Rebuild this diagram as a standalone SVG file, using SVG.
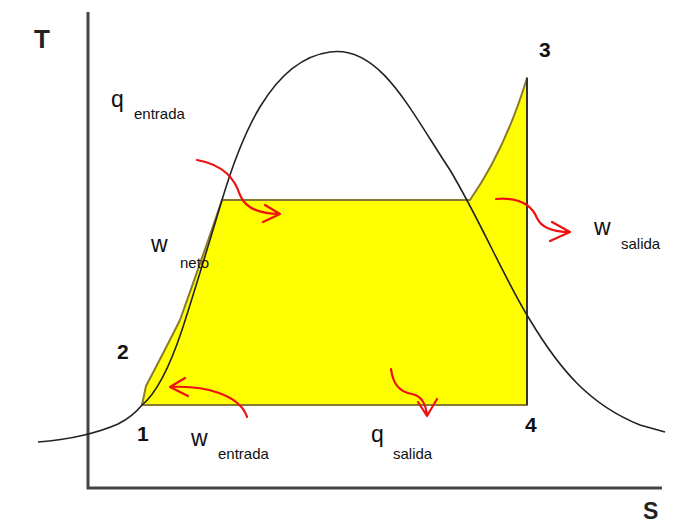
<svg xmlns="http://www.w3.org/2000/svg" width="682" height="523" viewBox="0 0 682 523">
<defs>
<style>
.ax{stroke:#444;stroke-width:3;fill:none}
.cur{stroke:#222;stroke-width:1.6;fill:none}
.cyc{fill:#ffff00;stroke:#8a7a30;stroke-width:2;stroke-linejoin:round}
.arr{stroke:#ee1111;stroke-width:2.2;fill:none;stroke-linecap:round;stroke-linejoin:round}
.lb{font-family:"Liberation Sans",Arial,sans-serif;fill:#111}
.big{font-size:23px}
.sub{font-size:15px}
.num{font-size:21px;font-weight:bold}
.axl{font-family:"Liberation Sans",sans-serif;font-size:26px;font-weight:bold;fill:#222}
</style>
</defs>
<rect width="682" height="523" fill="#fff"/>
<g id="axes">
<path class="ax" d="M88,12 V488 H662"/>
<text class="axl" x="34" y="48">T</text>
<text class="axl" x="643" y="519" style="font-size:23px">S</text>
</g>
<g id="cycle">
<path class="cyc" d="M142,405 L146,386 Q165,350 180,320 Q205,250 222,200 L470,200 Q505,150 527,78 L527,405 Z"/>
</g>
<g id="dome">
<path class="cur" d="M38,442 C70,440 100,432 118,424 C130,418 138,410 142,405 C158,392 172,360 182,330 C195,290 210,240 222,200 C240,140 270,60 330,52 C380,45 410,110 450,170 C480,220 505,280 530,320 C560,370 590,405 640,425 L665,432"/>
<path class="cur" d="M527,78 V405"/>
</g>
<g id="connectors">
<path class="arr" d="M197,160 C225,165 235,180 240,195 C246,210 262,214 280,214 M265,205 L280,214 L263,222"/>
<path class="arr" d="M247,417 C240,395 205,385 170,387 M185,378 L170,387 L188,396"/>
<path class="arr" d="M391,369 C393,385 400,392 412,394 C422,396 426,404 427,416 M418,402 L427,416 L437,399"/>
<path class="arr" d="M496,199 C520,197 532,206 537,218 C542,229 555,232 570,232 M552,222 L570,232 L550,241"/>
</g>
<g id="labels">
<text class="lb big" x="111" y="107">q</text><text class="lb sub" x="134" y="119">entrada</text>
<text class="lb big" x="151" y="252">w</text><text class="lb sub" x="180" y="268">neto</text>
<text class="lb big" x="191" y="446">w</text><text class="lb sub" x="218" y="459">entrada</text>
<text class="lb big" x="371" y="442">q</text><text class="lb sub" x="393" y="459">salida</text>
<text class="lb big" x="594" y="235">w</text><text class="lb sub" x="621" y="249">salida</text>
<text class="lb num" x="117" y="359">2</text>
<text class="lb num" x="137" y="441">1</text>
<text class="lb num" x="539" y="57">3</text>
<text class="lb num" x="525" y="432">4</text>
</g>
</svg>
